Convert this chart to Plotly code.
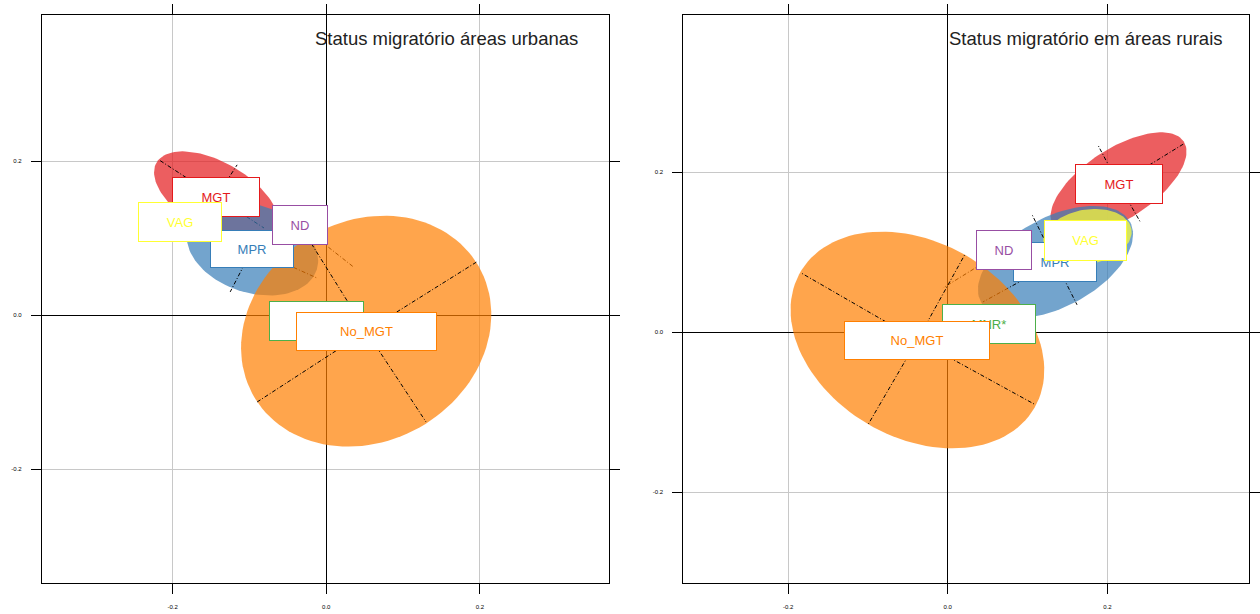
import numpy as np
import plotly.graph_objects as go

# ---------------- data ----------------
classes = ["MGT", "MNR*", "MPR", "ND", "No_MGT", "VAG"]
class_colors = ["#E41A1C", "#4DAF4A", "#377EB8", "#984EA3", "#FF7F00", "#FFFF33"]

tick_vals = [-0.2, 0.0, 0.2]
tick_text = ["-0.2", "0.0", "0.2"]

title_urb = "Status migratório áreas urbanas"
title_rur = "Status migratório em áreas rurais"

# urban panel: class centres, ellipse semi-axes, ellipse angle (deg)
urb_cx = [-0.143, -0.013, -0.096, -0.034, 0.052, -0.191]
urb_cy = [0.153, -0.008, 0.086, 0.117, -0.021, 0.121]
urb_a = [0.090, None, 0.088, None, 0.169, None]
urb_b = [0.045, None, 0.057, None, 0.143, None]
urb_ang = [-30, None, -18, None, 30, None]
# star end points (individual positions) per class
urb_star_x = [[-0.217, -0.116, -0.081], [], [-0.125, -0.012], [0.036],
              [0.196, -0.090, 0.130, -0.022], []]
urb_star_y = [[0.201, 0.195, 0.113], [], [0.030, 0.048], [0.062],
              [0.069, -0.113, -0.139, 0.097], []]

# rural panel
rur_cx = [0.214, 0.052, 0.135, 0.071, -0.038, 0.1725]
rur_cy = [0.185, 0.010, 0.0875, 0.1025, -0.010, 0.115]
rur_ecx = [0.214, None, 0.135, None, -0.038, 0.175]
rur_ecy = [0.185, None, 0.0875, None, -0.010, 0.119]
rur_a = [0.0975, None, 0.106, None, 0.1695, 0.056]
rur_b = [0.044, None, 0.056, None, 0.122, 0.034]
rur_ang = [33, None, 28, None, -30, 10]
rur_star_x = [[0.188, 0.297, 0.241], [], [0.162, 0.106, 0.044], [-0.006],
              [-0.184, 0.021, -0.100, 0.110], []]
rur_star_y = [[0.234, 0.236, 0.138], [], [0.034, 0.146, 0.0375], [0.055],
              [0.074, 0.096, -0.116, -0.091], []]

# label box sizes (px) – styling
urb_box_w = [88, 95, 84, 56, 141, 84]
urb_box_h = [40, 40, 38, 40, 39, 40]
rur_box_w = [88, 94, 84, 56, 146, 83]
rur_box_h = [40, 40, 40, 40, 39, 41]

# ---------------- helpers ----------------
def rgba(hexc, a):
    h = hexc.lstrip("#")
    r, g, b = int(h[0:2], 16), int(h[2:4], 16), int(h[4:6], 16)
    return f"rgba({r},{g},{b},{a})"


def ellipse_xy(cx, cy, a, b, ang, n=120):
    t = np.linspace(0, 2 * np.pi, n)
    th = np.radians(ang)
    x = cx + a * np.cos(t) * np.cos(th) - b * np.sin(t) * np.sin(th)
    y = cy + a * np.cos(t) * np.sin(th) + b * np.sin(t) * np.cos(th)
    return x, y


fig = go.Figure()


def add_panel(xa, ya, cx, cy, ecx, ecy, A, B, ANG, sx, sy, bw, bh, title, tx):
    for i, c in enumerate(classes):
        col = class_colors[i]
        if A[i] is not None:
            ex, ey = ellipse_xy(ecx[i], ecy[i], A[i], B[i], ANG[i])
            fig.add_trace(go.Scatter(x=ex, y=ey, mode="lines", fill="toself",
                                     fillcolor=rgba(col, 0.7), line=dict(width=0),
                                     hoverinfo="skip", showlegend=False,
                                     xaxis=xa, yaxis=ya))
        if sx[i]:
            lx, ly = [], []
            for px, py in zip(sx[i], sy[i]):
                lx += [cx[i], px, None]
                ly += [cy[i], py, None]
            fig.add_trace(go.Scatter(x=lx, y=ly, mode="lines",
                                     line=dict(color="black", width=1, dash="4px,2px,1px,2px"),
                                     hoverinfo="skip", showlegend=False,
                                     xaxis=xa, yaxis=ya))
    for i, c in enumerate(classes):
        col = class_colors[i]
        fig.add_annotation(x=cx[i], y=cy[i], xref=xa, yref=ya, text=c,
                           showarrow=False, bgcolor="white", bordercolor=col,
                           borderwidth=1, borderpad=0, width=bw[i] - 2, height=bh[i] - 2,
                           font=dict(family="Liberation Sans, Arial", size=13, color=col))
    fig.add_annotation(x=tx, y=0.958, xref=f"{xa} domain", yref=f"{ya} domain",
                       text=title, showarrow=False, xanchor="right", yanchor="middle",
                       font=dict(family="Liberation Sans, Arial", size=18.5, color="#222222"))


# invisible traces so both axis pairs exist
fig.add_trace(go.Scatter(x=[None], y=[None], xaxis="x", yaxis="y", showlegend=False))
fig.add_trace(go.Scatter(x=[None], y=[None], xaxis="x2", yaxis="y2", showlegend=False))

add_panel("x", "y", urb_cx, urb_cy, urb_cx, urb_cy, urb_a, urb_b, urb_ang,
          urb_star_x, urb_star_y, urb_box_w, urb_box_h, title_urb, 0.949)
add_panel("x2", "y2", rur_cx, rur_cy, rur_ecx, rur_ecy, rur_a, rur_b, rur_ang,
          rur_star_x, rur_star_y, rur_box_w, rur_box_h, title_rur, 0.958)

axis_common = dict(
    tickvals=tick_vals, ticktext=tick_text, ticks="outside", ticklen=10,
    tickcolor="black", tickwidth=1, showline=True, linecolor="black", linewidth=1,
    mirror="allticks", showgrid=True, gridcolor="#C8C8C8", gridwidth=1,
    zeroline=True, zerolinecolor="black", zerolinewidth=1,
    tickfont=dict(family="Liberation Sans, Arial", size=6, color="black"),
    ticklabelstandoff=8,
    fixedrange=True,
)

W, H = 1260, 614
fig.update_layout(
    width=W, height=H, margin=dict(l=0, r=0, t=0, b=0),
    paper_bgcolor="white", plot_bgcolor="white", showlegend=False,
    xaxis=dict(domain=[42 / W, 610 / W], range=[(42 - 327) / 770, (610 - 327) / 770],
               anchor="y", **axis_common),
    yaxis=dict(domain=[1 - 583 / H, 1 - 15 / H], range=[(315 - 583) / 770, (315 - 15) / 770],
               anchor="x", **axis_common),
    xaxis2=dict(domain=[685 / W, 1252 / W], range=[(685 - 950) / 800, (1252 - 950) / 800],
                anchor="y2", **axis_common),
    yaxis2=dict(domain=[1 - 583 / H, 1 - 15 / H], range=[(332 - 583) / 800, (332 - 15) / 800],
                anchor="x2", **axis_common),
)

fig.write_html("out.html", config={"displayModeBar": False},
               post_script="document.body.style.margin='0px';document.body.style.overflow='hidden';")
